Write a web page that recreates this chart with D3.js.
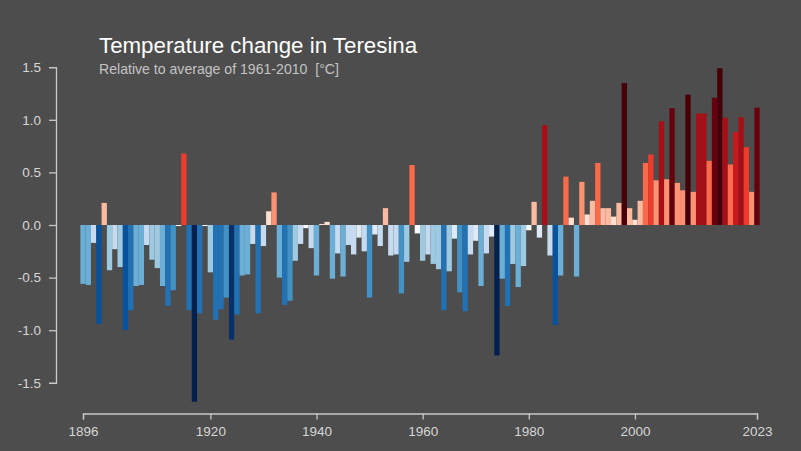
<!DOCTYPE html>
<html>
<head>
<meta charset="utf-8">
<script src="https://cdn.jsdelivr.net/npm/d3@7"></script>
<style>
    html, body { margin: 0; padding: 0; background: #4d4d4d; }
    svg { display: block; }
    text { font-family: "Liberation Sans", Arial, sans-serif; }
    .axis path, .axis line { stroke: #c9c9c9; stroke-width: 1.3; }
    .axis text { fill: #d6d6d6; font-size: 13.5px; }
</style>
</head>
<body>
<div id="chart"></div>
<script>
const firstYear = 1896;

const anomalies = [
    -0.56, -0.57, -0.17, -0.94, 0.21, -0.43, -0.23, -0.40, -1.00, -0.81,
    -0.58, -0.57, -0.19, -0.33, -0.41, -0.58, -0.77, -0.62, -0.01, 0.68,
    -0.81, -1.68, -0.84, -0.01, -0.45, -0.90, -0.80, -0.69, -1.09, -0.85,
    -0.48, -0.47, -0.18, -0.84, -0.20, 0.13, 0.31, -0.50, -0.76, -0.72,
    -0.34, -0.18, -0.03, -0.22, -0.48, 0.01, 0.03, -0.51, -0.27, -0.49,
    -0.19, -0.28, -0.12, -0.25, -0.69, -0.09, -0.20, 0.16, -0.29, -0.28,
    -0.65, -0.35, 0.57, -0.08, -0.34, -0.28, -0.37, -0.42, -0.81, -0.44,
    -0.13, -0.64, -0.82, -0.28, -0.15, -0.58, -0.27, -0.11, -1.24, -0.51,
    -0.77, -0.37, -0.59, -0.39, -0.05, 0.22, -0.12, 0.95, -0.29, -0.95,
    -0.48, 0.46, 0.07, -0.49, 0.41, 0.10, 0.23, 0.59, 0.16, 0.16,
    0.08, 0.21, 1.35, 0.16, 0.05, 0.23, 0.59, 0.67, 0.425, 0.985,
    0.435, 1.11, 0.40, 0.33, 1.24, 0.315, 1.06, 1.06, 0.61, 1.21,
    1.49, 1.02, 0.575, 0.885, 1.025, 0.74, 0.315, 1.115
];

const yTicks = [-1.5, -1.0, -0.5, 0.0, 0.5, 1.0, 1.5];
const xTicks = [1896, 1920, 1940, 1960, 1980, 2000, 2023];

const colorBreaks = [-1.2, -1.05, -0.92, -0.75, -0.6, -0.46, -0.31, -0.16, -0.085, 0, 0.15, 0.28, 0.44, 0.65, 0.8, 0.93, 1.08, 1.22];
const colorSteps = [
    '#02204f', '#08306b', '#08519c', '#2171b5', '#4292c6', '#6baed6', '#9ecae1', '#c6dbef', '#deebf7', '#f7fbff',
    '#fee0d2', '#fcbba1', '#fc9272', '#fb6a4a', '#ef3b2c', '#cb181d', '#a50f15', '#67000d', '#45000a'
];

const width = 801;
const height = 451;

const x = d3.scaleLinear().domain([1896, 2023]).range([83, 757]);
const y = d3.scaleLinear().domain([-1.5, 1.5]).range([382.8, 67.2]);
const color = d3.scaleThreshold().domain(colorBreaks).range(colorSteps);
const barWidth = x(1897) - x(1896);

const svg = d3.select('#chart')
    .append('svg')
    .attr('width', width)
    .attr('height', height);

svg.append('rect')
    .attr('width', width)
    .attr('height', height)
    .attr('fill', '#4d4d4d');

svg.selectAll('rect.bar')
    .data(anomalies)
    .enter()
    .append('rect')
    .attr('class', 'bar')
    .attr('x', (d, i) => x(firstYear + i) - barWidth / 2)
    .attr('y', d => y(Math.max(d, 0)))
    .attr('width', barWidth)
    .attr('height', d => Math.abs(y(d) - y(0)))
    .attr('fill', d => color(d));

svg.append('g')
    .attr('class', 'axis')
    .attr('transform', 'translate(56,0)')
    .call(d3.axisLeft(y).tickValues(yTicks).tickFormat(d3.format('.1f')).tickSize(7).tickPadding(8))
    .selectAll('text')
    .text(d => d3.format('.1f')(d).replace('−', '-'));

svg.append('g')
    .attr('class', 'axis')
    .attr('transform', 'translate(0,413.5)')
    .call(d3.axisBottom(x).tickValues(xTicks).tickFormat(d3.format('d')).tickSize(6).tickPadding(7));

svg.append('text')
    .attr('x', 99)
    .attr('y', 53)
    .attr('fill', '#ffffff')
    .style('font-size', '22.3px')
    .text('Temperature change in Teresina');

svg.append('text')
    .attr('x', 99)
    .attr('y', 74)
    .attr('fill', '#c4c4c4')
    .style('font-size', '14.1px')
    .style('white-space', 'pre')
    .text('Relative to average of 1961-2010  [°C]');
</script>
</body>
</html>
